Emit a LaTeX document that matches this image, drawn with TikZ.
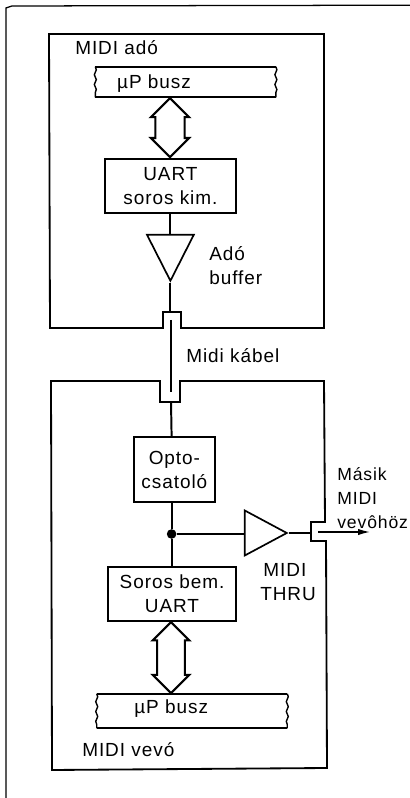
\documentclass[tikz,border=0pt]{standalone}
\usepackage{fontspec}
\setsansfont[LetterSpace=5]{Liberation Sans}
\usepackage{tikz}
\usetikzlibrary{arrows.meta,positioning,shapes.geometric,shapes.arrows,decorations.pathmorphing}

\begin{document}
\begin{tikzpicture}[
  font=\sffamily\fontsize{13.5}{17}\selectfont,
  frameline/.style={line width=0.9pt},
  unitline/.style={line width=1.3pt},
  unit/.style={draw, line width=1.3pt, align=center, inner sep=0pt},
  busbar/.style={minimum width=4.5cm, inner sep=0pt},
  wavy/.style={line width=1pt, decorate, decoration={snake, amplitude=0.7pt, segment length=7pt}},
  busarrow/.style={draw, double arrow, rotate=90, line width=1.5pt, inner xsep=0pt, double arrow head extend=0.11cm},
  buffer/.style={draw, isosceles triangle, isosceles triangle stretches, line width=1.2pt, inner sep=0pt},
  caption/.style={anchor=west, align=left, inner sep=0pt},
  wire/.style={line width=1.4pt},
  outwire/.style={-{Latex[length=3mm,width=1.6mm]}, line width=1pt}
]
\useasboundingbox (0,0) rectangle (10.25,19.95);

% ------------------------------------------------------------------
% Page frame and the two housings
% ------------------------------------------------------------------
\draw[frameline] (0.15,0) -- (0.15,19.75) -- (0.3,19.8) -- (10.25,19.82);
\draw[unitline] (1.225,19.1) -- (8.1,19.1) -- (8.1,11.75) -- (4.525,11.75) -- (4.525,12.15)
  -- (4.075,12.15) -- (4.075,11.75) -- (1.25,11.75) -- cycle;
\draw[unitline] (1.275,10.425) -- (4.0,10.425) -- (4.0,9.9) -- (4.5,9.9) -- (4.5,10.425)
  -- (8.1,10.425) -- (8.125,6.9) -- (7.775,6.9) -- (7.775,6.425) -- (8.15,6.425)
  -- (8.175,0.75) -- (1.3,0.7) -- cycle;

% ------------------------------------------------------------------
% Transmitter
% ------------------------------------------------------------------
\node[caption] (txtitle) at (1.875,18.75) {MIDI adó};
\node[busbar, minimum height=0.75cm] (bustx) at (4.64,17.9) {};
\draw[unitline] (bustx.north west) -- (bustx.north east);
\draw[unitline] (bustx.south west) -- (bustx.south east);
\draw[wavy] (bustx.north west) -- (bustx.south west);
\draw[wavy] (bustx.north east) -- (bustx.south east);
\node[inner sep=0pt] (bustxtext) at (3.85,17.87) {µP busz};

\node[busarrow, inner ysep=0.34cm, minimum height=1.475cm] (arrowtx) at (4.25,16.76) {};
\node[unit, minimum width=3.275cm, minimum height=1.35cm] (uarttx) at (4.26,15.3) {UART\\soros kim.};
\node[buffer, shape border rotate=-90, minimum width=1.17cm, minimum height=1.15cm, anchor=apex] (buftx) at (4.26,12.875) {};
\draw[wire] (uarttx.south) -- (buftx.north);
\node[caption] (buftxtext) at (5.225,13.3) {Adó\\buffer};

% ------------------------------------------------------------------
% Cable
% ------------------------------------------------------------------
\coordinate (cablefrom) at (4.26,12.15);
\coordinate (cabletop) at (4.275,11.95);
\coordinate (cablebot) at (4.275,10.15);
\coordinate (cableend) at (4.275,9.9);
\draw[wire] (buftx.apex) -- (cablefrom);
\draw[wire] (cabletop) -- (cablebot);
\node[caption] (cabletext) at (4.65,11.05) {Midi kábel};

% ------------------------------------------------------------------
% Receiver
% ------------------------------------------------------------------
\node[unit, minimum width=2.025cm, minimum height=1.625cm] (opto) at (4.36,8.21) {Opto-\\csatoló};
\node[circle, fill, minimum size=0.24cm, inner sep=0pt] (junction) at (4.29,6.6) {};
\node[unit, minimum width=3.2cm, minimum height=1.35cm] (uartrx) at (4.3,5.1) {Soros bem.\\UART};
\draw[wire] (cableend) -- (junction |- opto.north);
\draw[wire] (junction |- opto.south) -- (junction);
\draw[wire] (junction) -- (junction |- uartrx.north);

\node[buffer, minimum width=1.125cm, minimum height=1.05cm, anchor=apex] (bufrx) at (7.225,6.625) {};
\draw[wire] (junction) -- (bufrx.west |- junction);
\coordinate (thruwall) at (7.775,6.625);
\coordinate (thruout) at (7.95,6.65);
\coordinate (thruend) at (9.25,6.65);
\draw[wire] (bufrx.apex) -- (thruwall);
\draw[outwire] (thruout) -- (thruend);
\node[caption] (thrutext) at (6.5,5.4) {\,MIDI\\THRU};
\node[caption, font=\sffamily\fontsize{12.5}{17}\selectfont] (nexttext) at (8.425,7.5) {Másik\\MIDI\\vevôhöz};

\node[busarrow, inner ysep=0.32cm, minimum height=1.775cm] (arrowrx) at (4.275,3.51) {};
\node[busbar, minimum width=4.75cm, minimum height=0.85cm] (busrx) at (4.8,2.175) {};
\draw[unitline] (busrx.north west) -- (busrx.north east);
\draw[unitline] (busrx.south west) -- (busrx.south east);
\draw[wavy] (busrx.north west) -- (busrx.south west);
\draw[wavy] (busrx.north east) -- (busrx.south east);
\node[inner sep=0pt] (busrxtext) at (4.28,2.23) {µP busz};
\node[caption] (rxtitle) at (2.05,1.22) {MIDI vevó};

\end{tikzpicture}
\end{document}
